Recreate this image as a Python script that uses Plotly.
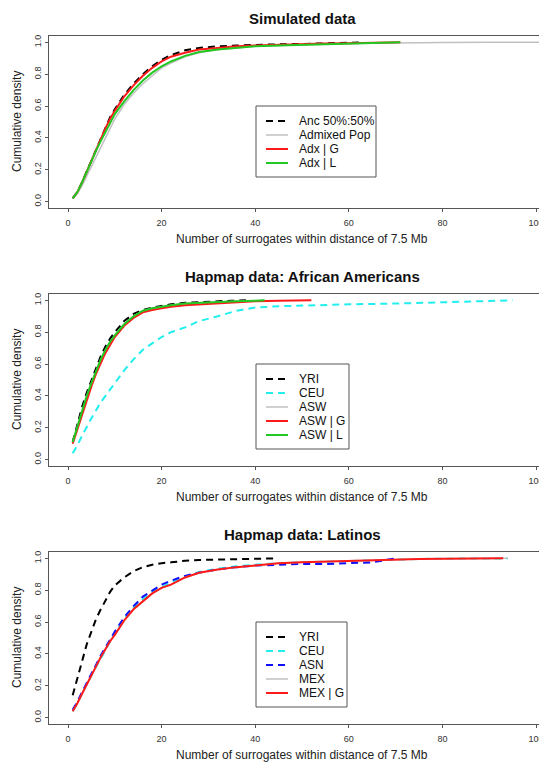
import plotly.graph_objects as go

# ---------------- Panel 1: Simulated data ----------------
sim_anc_x = [1, 2, 3, 4, 5, 6, 7, 8, 9, 10, 12, 14, 16, 18, 20, 22, 25, 28, 32, 36, 40, 45, 50, 55, 60, 63]
sim_anc_y = [0.02, 0.06, 0.12, 0.19, 0.26, 0.33, 0.40, 0.47, 0.53, 0.58, 0.67, 0.74, 0.80, 0.85, 0.89, 0.92,
             0.95, 0.965, 0.975, 0.98, 0.985, 0.988, 0.99, 0.993, 0.997, 1.0]
sim_adm_x = [1, 2, 3, 4, 5, 6, 7, 8, 9, 10, 12, 14, 16, 18, 20, 22, 25, 28, 32, 36, 40, 45, 50, 55, 60, 65, 70, 80, 90, 105]
sim_adm_y = [0.02, 0.05, 0.10, 0.16, 0.22, 0.29, 0.35, 0.41, 0.47, 0.52, 0.61, 0.68, 0.74, 0.79, 0.84, 0.87,
             0.91, 0.935, 0.955, 0.965, 0.975, 0.98, 0.985, 0.99, 0.993, 0.995, 0.997, 0.999, 1.0, 1.0]
sim_g_x = [1, 2, 3, 4, 5, 6, 7, 8, 9, 10, 12, 14, 16, 18, 20, 22, 25, 28, 32, 36, 40, 45, 50, 55, 60, 65, 71]
sim_g_y = [0.02, 0.06, 0.12, 0.19, 0.26, 0.33, 0.40, 0.46, 0.52, 0.57, 0.66, 0.73, 0.79, 0.84, 0.88, 0.91,
           0.935, 0.955, 0.965, 0.975, 0.98, 0.985, 0.99, 0.993, 0.995, 0.998, 1.0]
sim_l_x = [1, 2, 3, 4, 5, 6, 7, 8, 9, 10, 12, 14, 16, 18, 20, 22, 25, 28, 32, 36, 40, 45, 50, 55, 60, 65, 71]
sim_l_y = [0.02, 0.06, 0.12, 0.19, 0.25, 0.32, 0.38, 0.44, 0.50, 0.55, 0.63, 0.70, 0.76, 0.81, 0.85, 0.88,
           0.915, 0.94, 0.955, 0.965, 0.975, 0.98, 0.985, 0.99, 0.992, 0.996, 1.0]

# ---------------- Panel 2: African Americans ----------------
aa_yri_x = [1, 2, 3, 4, 5, 6, 7, 8, 9, 10, 12, 14, 16, 18, 20, 22, 25, 28, 32, 35, 38]
aa_yri_y = [0.11, 0.22, 0.33, 0.42, 0.50, 0.58, 0.65, 0.71, 0.76, 0.80, 0.87, 0.915, 0.94, 0.955, 0.965,
            0.975, 0.985, 0.99, 0.995, 0.998, 1.0]
aa_ceu_x = [1, 2, 3, 4, 5, 6, 7, 8, 9, 10, 12, 14, 16, 18, 20, 22, 25, 28, 32, 36, 40, 45, 50, 60, 70, 80, 90, 95]
aa_ceu_y = [0.04, 0.09, 0.15, 0.21, 0.26, 0.31, 0.36, 0.40, 0.44, 0.48, 0.56, 0.63, 0.69, 0.73, 0.77, 0.80,
            0.83, 0.87, 0.90, 0.935, 0.955, 0.963, 0.968, 0.975, 0.98, 0.988, 0.995, 1.0]
aa_asw_x = [1, 2, 3, 4, 5, 6, 7, 8, 9, 10, 12, 14, 16, 18, 20, 22, 25, 28, 32, 36, 40, 42]
aa_asw_y = [0.11, 0.21, 0.31, 0.40, 0.48, 0.56, 0.63, 0.69, 0.74, 0.78, 0.85, 0.90, 0.935, 0.95, 0.96, 0.97,
            0.98, 0.985, 0.99, 0.995, 0.998, 1.0]
aa_g_x = [1, 2, 3, 4, 5, 6, 7, 8, 9, 10, 12, 14, 16, 18, 20, 22, 25, 28, 32, 36, 40, 45, 52]
aa_g_y = [0.10, 0.19, 0.29, 0.38, 0.46, 0.54, 0.61, 0.67, 0.72, 0.77, 0.84, 0.89, 0.925, 0.94, 0.95, 0.96,
          0.97, 0.975, 0.985, 0.99, 0.995, 0.998, 1.0]
aa_l_x = [1, 2, 3, 4, 5, 6, 7, 8, 9, 10, 12, 14, 16, 18, 20, 22, 25, 28, 32, 36, 40, 42]
aa_l_y = [0.11, 0.21, 0.31, 0.40, 0.48, 0.56, 0.63, 0.69, 0.74, 0.78, 0.85, 0.90, 0.935, 0.95, 0.96, 0.97,
          0.98, 0.985, 0.99, 0.995, 0.998, 1.0]

# ---------------- Panel 3: Latinos ----------------
la_yri_x = [1, 2, 3, 4, 5, 6, 7, 8, 9, 10, 12, 14, 16, 18, 20, 22, 25, 28, 32, 36, 40, 44]
la_yri_y = [0.14, 0.25, 0.36, 0.46, 0.54, 0.62, 0.68, 0.74, 0.79, 0.83, 0.88, 0.92, 0.945, 0.96, 0.97,
            0.975, 0.985, 0.99, 0.993, 0.995, 0.997, 1.0]
la_ceu_x = [1, 2, 3, 4, 5, 6, 7, 8, 9, 10, 12, 14, 16, 18, 20, 22, 25, 28, 32, 36, 40, 45, 50, 55, 60, 65,
            70, 75, 80, 85, 94]
la_ceu_y = [0.04, 0.09, 0.15, 0.21, 0.26, 0.32, 0.37, 0.43, 0.48, 0.53, 0.62, 0.69, 0.745, 0.79, 0.82, 0.85,
            0.885, 0.915, 0.935, 0.95, 0.96, 0.97, 0.975, 0.98, 0.985, 0.99, 0.993, 0.996, 0.998, 0.999, 1.0]
la_asn_x = [1, 2, 3, 4, 5, 6, 7, 8, 9, 10, 12, 14, 16, 18, 20, 22, 25, 28, 32, 36, 40, 45, 50, 55, 60, 65, 68, 70]
la_asn_y = [0.05, 0.10, 0.16, 0.22, 0.28, 0.34, 0.39, 0.44, 0.49, 0.54, 0.63, 0.70, 0.76, 0.80, 0.835, 0.86,
            0.89, 0.91, 0.93, 0.945, 0.955, 0.96, 0.965, 0.965, 0.97, 0.975, 0.99, 1.0]
la_mex_x = [1, 2, 3, 4, 5, 6, 7, 8, 9, 10, 12, 14, 16, 18, 20, 22, 25, 28, 32, 36, 40, 45, 50, 55, 60, 65,
            70, 75, 80, 85, 94]
la_mex_y = [0.04, 0.09, 0.15, 0.21, 0.27, 0.32, 0.38, 0.43, 0.48, 0.52, 0.61, 0.68, 0.73, 0.78, 0.815,
            0.835, 0.88, 0.91, 0.93, 0.945, 0.955, 0.97, 0.975, 0.98, 0.985, 0.99, 0.993, 0.996, 0.998,
            0.999, 1.0]
la_g_x = [1, 2, 3, 4, 5, 6, 7, 8, 9, 10, 12, 14, 16, 18, 20, 22, 25, 28, 32, 36, 40, 45, 50, 55, 60, 65,
          70, 75, 80, 85, 93]
la_g_y = [0.04, 0.09, 0.15, 0.21, 0.27, 0.32, 0.38, 0.43, 0.48, 0.52, 0.61, 0.68, 0.73, 0.78, 0.815,
          0.835, 0.88, 0.91, 0.93, 0.945, 0.955, 0.97, 0.975, 0.98, 0.985, 0.99, 0.993, 0.996, 0.998,
          0.999, 1.0]

titles = ["Simulated data", "Hapmap data: African Americans", "Hapmap data: Latinos"]
x_label = "Number of surrogates within distance of 7.5 Mb"
y_label = "Cumulative density"
x_ticks = [0, 20, 40, 60, 80, 100]
y_ticks = [0.0, 0.2, 0.4, 0.6, 0.8, 1.0]

BLACK, CYAN, BLUE, GRAY, RED, GREEN = "#000000", "#22eeee", "#1010ff", "#c0c0c0", "#ff1a1a", "#22c822"
DASH = "7px,5px"

panels = [
    [("Anc 50%:50%", sim_anc_x, sim_anc_y, BLACK, DASH, 2),
     ("Admixed Pop", sim_adm_x, sim_adm_y, GRAY, "solid", 1.5),
     ("Adx | G", sim_g_x, sim_g_y, RED, "solid", 2),
     ("Adx | L", sim_l_x, sim_l_y, GREEN, "solid", 2)],
    [("YRI", aa_yri_x, aa_yri_y, BLACK, DASH, 2),
     ("CEU", aa_ceu_x, aa_ceu_y, CYAN, DASH, 2),
     ("ASW", aa_asw_x, aa_asw_y, GRAY, "solid", 1.5),
     ("ASW | G", aa_g_x, aa_g_y, RED, "solid", 2),
     ("ASW | L", aa_l_x, aa_l_y, GREEN, "solid", 2)],
    [("YRI", la_yri_x, la_yri_y, BLACK, DASH, 2),
     ("CEU", la_ceu_x, la_ceu_y, CYAN, DASH, 2),
     ("ASN", la_asn_x, la_asn_y, BLUE, DASH, 2),
     ("MEX", la_mex_x, la_mex_y, GRAY, "solid", 1.5),
     ("MEX | G", la_g_x, la_g_y, RED, "solid", 2)],
]

W, H = 547, 767
OFF = 8  # the page body places the figure 8px from the window's top-left corner
FONT = "Liberation Sans, Arial, sans-serif"
box_tops = [36, 294, 552]     # window pixels
box_h = 172
box_left = 49
leg_left = 256
leg_right = [376, 349, 347]
leg_top = [106, 364, 622]
row_gap = 14


def px_x(p):
    return (p - OFF) / W


def px_y(p):
    return 1 - (p - OFF) / H


fig = go.Figure()
shapes, annotations = [], []
layout = dict(width=W, height=H, margin=dict(l=0, r=0, t=0, b=0, autoexpand=False),
              paper_bgcolor="white", plot_bgcolor="white", showlegend=False,
              font=dict(family=FONT, color="#222"))

for i, traces in enumerate(panels):
    sfx = "" if i == 0 else str(i + 1)
    for name, xs, ys, col, dash, w in traces:
        fig.add_trace(go.Scatter(x=xs, y=ys, mode="lines", name=name,
                                 line=dict(color=col, dash=dash, width=w),
                                 xaxis="x" + sfx, yaxis="y" + sfx))
    top, bot = box_tops[i], box_tops[i] + box_h
    layout["xaxis" + sfx] = dict(
        domain=[px_x(box_left), 1], anchor="y" + sfx, range=[-4.06, 104.06], automargin=False,
        tickvals=x_ticks, ticks="outside", ticklen=3, tickcolor="#555",
        showline=True, linecolor="#555", linewidth=1, mirror=True, ticklabelstandoff=3,
        showgrid=False, zeroline=False, tickfont=dict(size=9, color="#333"))
    layout["yaxis" + sfx] = dict(
        domain=[px_y(bot), px_y(top)], anchor="x" + sfx, range=[-0.04, 1.04], automargin=False,
        tickvals=y_ticks, tickformat=".1f", ticks="outside", ticklen=3, tickcolor="#555",
        tickangle=-90, showline=True, linecolor="#555", linewidth=1, mirror=False,
        showgrid=False, zeroline=False, tickfont=dict(size=9, color="#333"))
    annotations.append(dict(text="<b>" + titles[i] + "</b>", x=px_x(302), y=px_y(top - 18),
                            xref="paper", yref="paper", xanchor="center", yanchor="middle",
                            showarrow=False, font=dict(size=15, color="#111", family=FONT)))
    annotations.append(dict(text=x_label, x=px_x(302), y=px_y(bot + 31),
                            xref="paper", yref="paper", xanchor="center", yanchor="middle",
                            showarrow=False, font=dict(size=12, color="#222", family=FONT)))
    annotations.append(dict(text=y_label, x=px_x(17), y=px_y((top + bot) / 2), textangle=-90,
                            xref="paper", yref="paper", xanchor="center", yanchor="middle",
                            showarrow=False, font=dict(size=12, color="#222", family=FONT)))
    n = len(traces)
    ltop = leg_top[i]
    lbot = ltop + 29 + (n - 1) * row_gap
    shapes.append(dict(type="rect", xref="paper", yref="paper",
                       x0=px_x(leg_left), x1=px_x(leg_right[i]), y0=px_y(lbot), y1=px_y(ltop),
                       line=dict(color="#555", width=1), fillcolor="white", layer="above"))
    for k, (name, xs, ys, col, dash, w) in enumerate(traces):
        ry = ltop + 15 + k * row_gap
        shapes.append(dict(type="line", xref="paper", yref="paper",
                           x0=px_x(266), x1=px_x(288), y0=px_y(ry), y1=px_y(ry),
                           line=dict(color=col, width=w, dash=dash), layer="above"))
        annotations.append(dict(text=name, x=px_x(297), y=px_y(ry), xref="paper", yref="paper",
                                xanchor="left", yanchor="middle", showarrow=False,
                                font=dict(size=12, color="#111", family=FONT)))

layout["shapes"] = shapes
layout["annotations"] = annotations
fig.update_layout(**layout)
fig.write_html("out.html")
